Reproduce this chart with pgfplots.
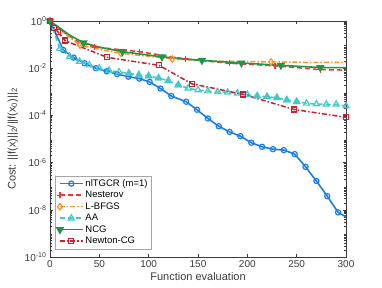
\documentclass[border=0pt]{standalone}
\usepackage{pgfplots}
\pgfplotsset{compat=1.18}
\usepackage{fontspec}
\setmainfont{Liberation Sans}
\definecolor{cBlue}{RGB}{25,125,235}
\definecolor{cNest}{RGB}{240,55,55}
\definecolor{cOrange}{RGB}{255,145,30}
\definecolor{cCyan}{RGB}{70,200,200}
\definecolor{cGreen}{RGB}{30,150,70}
\definecolor{cNCG}{RGB}{200,35,45}
\definecolor{axgray}{RGB}{60,60,60}
\def\minorlist{1e-10}
\foreach \e in {-10,...,-1}{\foreach \m in {2,...,9}{\xdef\minorlist{\minorlist,\m e\e}}}
\begin{document}
\begin{tikzpicture}
\path[use as bounding box] (-50pt,-30pt) rectangle (332pt,257pt);
\begin{semilogyaxis}[
  scale only axis, width=296pt, height=236pt,
  xmin=0, xmax=300, ymin=1e-10, ymax=1,
  xtick={0,50,...,300},
  ytick={1e-10,1e-8,1e-6,1e-4,1e-2,1},
  yticklabels={10\textsuperscript{-10},10\textsuperscript{-8},10\textsuperscript{-6},10\textsuperscript{-4},10\textsuperscript{-2},10\textsuperscript{0}},
  minor ytick/.expanded={\minorlist},
  /pgf/number format/assume math mode=true,
  tick label style={font=\fontsize{10}{12}\selectfont, text=axgray},
  label style={font=\fontsize{11}{13}\selectfont, text=axgray},
  xlabel={Function evaluation},
  ylabel={Cost: ||f(x)||\textsubscript{2}/||f(x\textsubscript{0})||\textsubscript{2}},
  xlabel style={yshift=2pt},
  axis line style={axgray, line width=0.5pt},
  every tick/.style={axgray, line width=0.4pt},
  major tick length=3pt, minor tick length=1.6pt,
  tick align=inside,
  legend style={at={(0.017,0.034)}, anchor=south west, font=\fontsize{9.5}{11.5}\selectfont,
    draw=gray!70, fill=white, inner sep=1.5pt, row sep=-0.6pt},
  legend cell align=left,
  legend image code/.code={\draw[mark repeat=2,mark phase=2,#1] plot coordinates {(0cm,0cm) (0.4cm,0cm) (0.8cm,0cm)};},
]
% nlTGCR
\addplot[color=cBlue, line width=1.6pt, mark=o, mark size=2.6pt, mark options={solid, line width=1.2pt}] coordinates {
(0,1) (13.5,0.0589) (24,0.0282) (35,0.0162) (46.5,0.0100) (57.5,0.00741) (68,0.00562)
(79.5,0.00437) (90.5,0.00363) (101,0.00263) (112,0.00138) (123,0.000661) (138,0.000380)
(149,0.000174) (160,7.41e-5) (171,3.47e-5) (182,2.0e-5) (193,1.32e-5) (204,6.92e-6)
(215,4.68e-6) (226,3.72e-6) (237,3.39e-6) (248,2.29e-6) (259,6.61e-7) (270,1.66e-7)
(281,3.80e-8) (292,7.76e-9) (303,4.27e-9)
};
\addlegendentry{nlTGCR (m=1)}
% Nesterov
\addplot[color=cNest, line width=1.5pt, dash pattern=on 5pt off 3pt, mark=+, mark size=3.2pt, mark options={solid, line width=1.2pt}, mark indices={1,5,6,7,8,9,10}] coordinates {
(0,1) (10,0.42) (20,0.23) (30,0.12) (45.5,0.079) (91,0.050) (137,0.0245) (182,0.0162)
(228,0.0126) (274,0.0087) (300,0.0083)
};
\addlegendentry{Nesterov}
% L-BFGS
\addplot[color=cOrange, line width=1.5pt, dash pattern=on 5pt off 2pt on 1.5pt off 2pt, mark=diamond, mark size=3.2pt, mark options={solid, line width=1.2pt}, mark indices={1,4,6,8,10}] coordinates {
(0,1) (10,0.45) (20,0.20) (30.5,0.0955) (50,0.063) (72,0.0427) (100,0.032) (124,0.0245)
(174,0.0195) (224,0.0185) (260,0.0178) (300,0.0178)
};
\addlegendentry{L-BFGS}
% AA
\addplot[color=cCyan, line width=1.5pt, dash pattern=on 5pt off 3pt, mark=triangle, mark size=3.5pt, mark options={solid, line width=1.2pt}] coordinates {
(0,1) (10,0.0676) (20,0.0316) (30,0.0191) (40,0.0135) (50,0.0100) (60,0.00794) (70,0.00692)
(80,0.00603) (90,0.00513) (100,0.00468) (110,0.00380) (120,0.00295) (130,0.00195)
(140,0.00141) (150,0.00120) (160,0.00107) (170,0.00100) (180,0.000955) (190,0.000871)
(200,0.000759) (210,0.000661) (220,0.000617) (230,0.000562) (240,0.000447) (250,0.000380)
(260,0.000324) (270,0.000302) (280,0.000295) (290,0.000295) (300,0.000251)
};
\addlegendentry{AA}
\addplot[color=cCyan, only marks, mark=triangle*, mark size=3.5pt, mark options={line width=1.2pt}, forget plot] coordinates {
(80,0.00603) (90,0.00513) (100,0.00468) (110,0.00380) (120,0.00295) (130,0.00195)
(210,0.000661) (220,0.000617) (230,0.000562) (240,0.000447) (250,0.000380)
};
% NCG
\addplot[color=cGreen, line width=1.6pt, solid, mark=triangle*, mark size=3.3pt, mark options={solid, rotate=180}, mark indices={1,4,6,7,8,9,10,11}] coordinates {
(0,1) (10,0.50) (20,0.25) (34,0.12) (50,0.078) (73.5,0.0501) (113.5,0.0302) (154,0.0214)
(194,0.0166) (234,0.0132) (274,0.0107) (300,0.0105)
};
\addlegendentry{NCG}
% Newton-CG
\addplot[color=cNCG, line width=1.5pt, dash pattern=on 5pt off 2pt on 1.5pt off 2pt, mark=square, mark size=2.5pt, mark options={solid, line width=1.2pt}] coordinates {
(0,1) (4.4,0.49) (7.8,0.355) (15.2,0.148) (58,0.0288) (110.5,0.0132) (143.7,0.00219)
(196,0.000776) (247.5,0.000178) (300,8.32e-5)
};
\addlegendentry{Newton-CG}
\end{semilogyaxis}
\end{tikzpicture}
\end{document}
